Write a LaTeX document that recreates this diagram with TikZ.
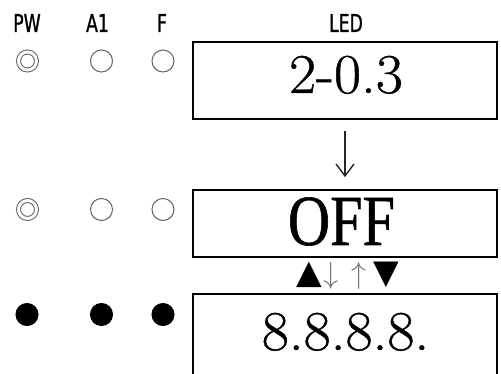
\documentclass[tikz,border=0pt]{standalone}
\usepackage{fontspec}
\usetikzlibrary{arrows.meta}
\newfontfamily\lblfont[FakeStretch=0.7, FakeBold=1]{DejaVu Sans}
\newfontfamily\segfont[FakeStretch=1.05, FakeBold=0.8]{Latin Modern Roman}
\newfontfamily\offfont[FakeStretch=0.81, FakeBold=0.8]{Liberation Serif}
\newfontfamily\symfont{DejaVu Sans}
\newcommand{\keytri}[1]{{\symfont\fontsize{19}{19}\selectfont #1}}
\newcommand{\keyarr}[1]{{\color{black!55}\fontsize{16}{16}\selectfont$#1$}}

\begin{document}
\begin{tikzpicture}[x=0.02cm, y=-0.02cm,
  hdr/.style={font=\lblfont\fontsize{14}{14}\selectfont, inner sep=0pt},
  lamp/.style={circle, draw=black!60, line width=0.6pt,
    minimum size=0.44cm, inner sep=0pt},
  lampdbl/.style={lamp, minimum size=0.36cm,
    double=white, double distance=0.058cm},
  lampon/.style={lamp, draw=black, fill=black},
  screen/.style={rectangle, draw=black, line width=1pt,
    minimum width=6.08cm, inner sep=0pt},
  segtxt/.style={anchor=base, inner sep=0pt,
    font=\segfont\fontsize{32}{32}\selectfont},
  offtxt/.style={anchor=base, inner sep=0pt,
    font=\offfont\fontsize{41}{41}\selectfont},
  keys/.style={anchor=base, inner sep=0pt},
  nextarr/.style={-{Straight Barb[length=0.24cm, width=0.36cm]},
    draw=black!85, line width=0.8pt}
]
\path[use as bounding box, clip] (0,0) rectangle (501,374);

\node[hdr] (hpw)  at (27,23)  {PW};
\node[hdr] (ha1)  at (97.5,23) {A1};
\node[hdr] (hf)   at (162,23) {F};
\node[hdr] (hled) at (346,23) {LED};

\node[lampdbl] (pw1) at (27.5,61) {};
\node[lamp]    (a11) at (101.5,61) {};
\node[lamp]    (f1)  at (163,61) {};

\node[lampdbl] (pw2) at (27.5,209.5) {};
\node[lamp]    (a12) at (101.5,209.5) {};
\node[lamp]    (f2)  at (163,209.5) {};

\node[lampon] (pw3) at (27,314.5) {};
\node[lampon] (a13) at (101.5,314.5) {};
\node[lampon] (f3)  at (163,314.5) {};

\node[screen, minimum height=1.54cm] (s1) at (345,80.5) {};
\node[screen, minimum height=1.34cm] (s2) at (345,223.5) {};
\node[screen, minimum height=2.12cm] (s3) at (345,347) {};

\node[segtxt] (t1) at (346,93)    {2-0.3};
\node[offtxt] (t2) at (341.5,245) {OFF};
\node[segtxt] (t3) at (345.5,350) {8.8.8.8.};

\node[keys] (k) at (347.5,284)
  {\keytri{▲}\kern1.2pt\keyarr{\downarrow}\kern6.8pt\keyarr{\uparrow}\kern4pt\keytri{▼}};

\draw[nextarr, shorten <=0.22cm, shorten >=0.24cm] (s1) -- (s2);
\end{tikzpicture}
\end{document}
